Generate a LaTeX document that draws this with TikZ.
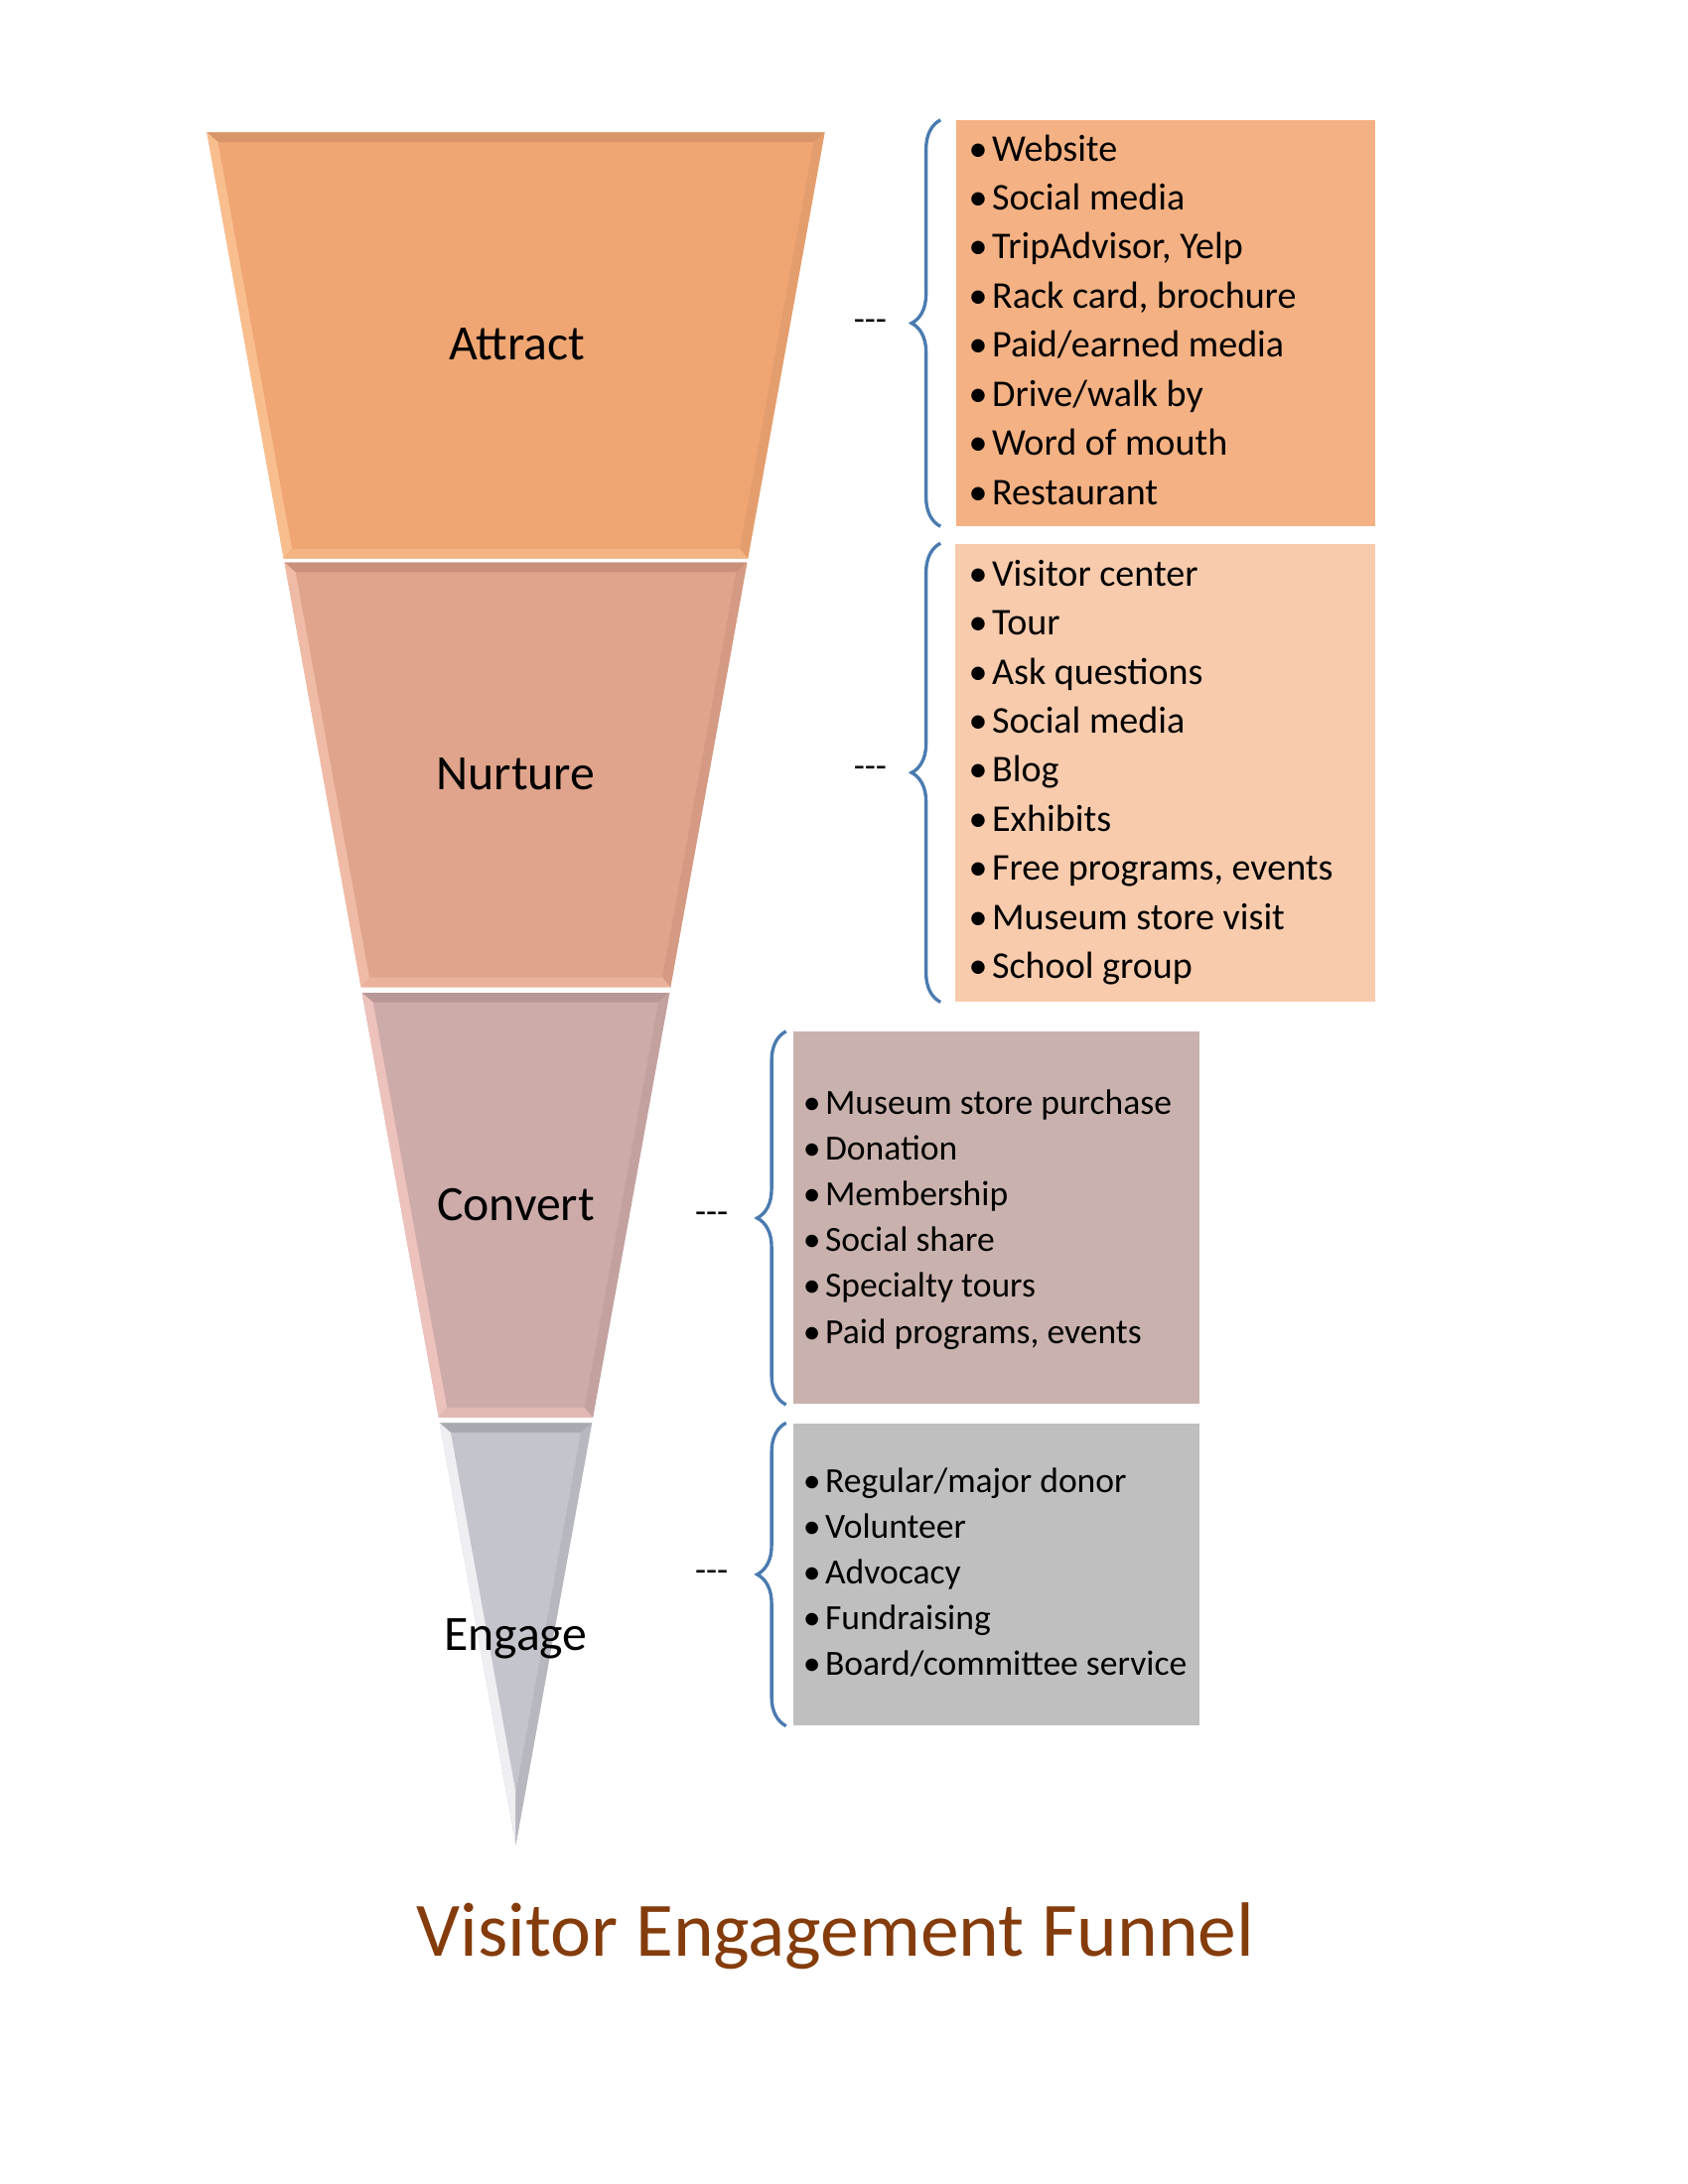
\documentclass[tikz,border=0pt]{standalone}
\usepackage{fontspec}
\setmainfont{Carlito}
\usepackage{tikz}
\usetikzlibrary{positioning,decorations.pathreplacing}

\definecolor{attractfill}{HTML}{F0A673}
\definecolor{attractdark}{HTML}{D8956A}
\definecolor{attractlight}{HTML}{F9BE8E}
\definecolor{attractbox}{HTML}{F4B183}
\definecolor{nurturefill}{HTML}{E0A48C}
\definecolor{nurturedark}{HTML}{C98F7A}
\definecolor{nurturelight}{HTML}{F0BBA6}
\definecolor{nurturebox}{HTML}{F8CBAD}
\definecolor{convertfill}{HTML}{CCABA9}
\definecolor{convertdark}{HTML}{B89896}
\definecolor{convertlight}{HTML}{EDC2BC}
\definecolor{convertbox}{HTML}{C9B2AD}
\definecolor{engagefill}{HTML}{C4C4CC}
\definecolor{engagedark}{HTML}{A9A9B2}
\definecolor{engagelight}{HTML}{EEEEF3}
\definecolor{engagebox}{HTML}{BFBFBF}
\definecolor{bracecol}{HTML}{4A7BB0}
\definecolor{titlecol}{HTML}{843C0C}

% one band of the funnel: top y, bottom y, half width top, half width bottom, colour prefix
\newcommand{\funnelband}[5]{%
  \fill[#5fill] ({374-#3},#1) -- ({374+#3},#1) -- ({374+#4},#2) -- ({374-#4},#2) -- cycle;
  \fill[#5dark] ({374-#3},#1) -- ({374+#3},#1) -- ({374+#3-8},{#1+7}) -- ({374-#3+8},{#1+7}) -- cycle;
  \fill[#5light] ({374-#3},#1) -- ({374-#3+8},{#1+7}) -- ({374-#4+6},{#2-7}) -- ({374-#4},#2) -- cycle;
  \fill[#5dark!50!#5fill] ({374+#3},#1) -- ({374+#3-8},{#1+7}) -- ({374+#4-6},{#2-7}) -- ({374+#4},#2) -- cycle;
  \fill[#5light!60!#5fill] ({374-#4},#2) -- ({374-#4+6},{#2-7}) -- ({374+#4-6},{#2-7}) -- ({374+#4},#2) -- cycle;
}
\newcommand{\lbul}{\makebox[8.5pt][l]{\textbullet}}
\newcommand{\sbul}{\makebox[8pt][l]{\textbullet}}

\tikzset{
  stagelabel/.style={font=\fontsize{17.9}{21}\selectfont, anchor=base, inner sep=0pt},
  listbox/.style={rectangle, anchor=north west, inner sep=0pt},
  biglist/.style={font=\fontsize{13.7}{17.8}\selectfont, align=left, anchor=base west, inner sep=0pt},
  smalllist/.style={font=\fontsize{12.8}{16.6}\selectfont, align=left, anchor=base west, inner sep=0pt},
  bracebar/.style={decorate, decoration={brace, amplitude=10.5pt}, draw=bracecol, line width=1.2pt},
  dashmark/.style={font=\fontsize{13}{15}\selectfont, inner sep=0pt},
}

\begin{document}
\begin{tikzpicture}[x=0.5pt, y=-0.5pt]
    \useasboundingbox (0,0) rectangle (1224,1584);
    % funnel
    \funnelband{96}{405}{224}{168.3}{attract}
    \funnelband{408}{716}{167.7}{112.2}{nurture}
    \funnelband{720}{1028}{111.5}{55.9}{convert}
    \fill[engagefill] (318.8,1032) -- (429.2,1032) -- (374,1338) -- cycle;
    \fill[engagedark] (318.8,1032) -- (429.2,1032) -- (421.2,1039) -- (326.8,1039) -- cycle;
    \fill[engagelight] (318.8,1032) -- (326.8,1039) -- (374,1300) -- (374,1338) -- cycle;
    \fill[engagedark!50!engagefill] (429.2,1032) -- (421.2,1039) -- (374,1300) -- (374,1338) -- cycle;
    \node[stagelabel] (attract) at (375,261) {Attract};
    \node[stagelabel] (nurture) at (374,573) {Nurture};
    \node[stagelabel] (convert) at (374,885) {Convert};
    \node[stagelabel] (engage) at (374,1197) {Engage};
    % boxes (list nodes sit on the baseline of their last line)
    \node[listbox, fill=attractbox, minimum width=152pt, minimum height=147pt] (attractbox) at (693,87) {};
    \node[listbox, fill=nurturebox, minimum width=152.5pt, minimum height=166pt] (nurturebox) at (692,394) {};
    \node[listbox, fill=convertbox, minimum width=147pt, minimum height=135pt] (convertbox) at (575,748) {};
    \node[listbox, fill=engagebox, minimum width=147pt, minimum height=109.5pt] (engagebox) at (575,1032) {};
    \node[biglist] (attractlist) at (702,365.9) {\lbul Website\\ \lbul Social media\\ \lbul TripAdvisor, Yelp\\
      \lbul Rack card, brochure\\ \lbul Paid/earned media\\ \lbul Drive/walk by\\ \lbul Word of mouth\\ \lbul Restaurant};
    \node[biglist] (nurturelist) at (702,709.7) {\lbul Visitor center\\ \lbul Tour\\ \lbul Ask questions\\
      \lbul Social media\\ \lbul Blog\\ \lbul Exhibits\\ \lbul Free programs, events\\ \lbul Museum store visit\\ \lbul School group};
    \node[smalllist] (convertlist) at (582,974.2) {\sbul Museum store purchase\\ \sbul Donation\\ \sbul Membership\\
      \sbul Social share\\ \sbul Specialty tours\\ \sbul Paid programs, events};
    \node[smalllist] (engagelist) at (582,1215.2) {\sbul Regular/major donor\\ \sbul Volunteer\\ \sbul Advocacy\\
      \sbul Fundraising\\ \sbul Board/committee service};
    % braces
    \draw[bracebar] ([xshift=-5.5pt]attractbox.south west) -- ([xshift=-5.5pt]attractbox.north west);
    \draw[bracebar] ([xshift=-5pt]nurturebox.south west) -- ([xshift=-5pt]nurturebox.north west);
    \draw[bracebar] ([xshift=-2.5pt]convertbox.south west) -- ([xshift=-2.5pt]convertbox.north west);
    \draw[bracebar] ([xshift=-2.5pt]engagebox.south west) -- ([xshift=-2.5pt]engagebox.north west);
    \node[dashmark] (attractdash) at (631,236) {-\kern0pt-\kern0pt-};
    \node[dashmark] (nurturedash) at (631,560) {-\kern0pt-\kern0pt-};
    \node[dashmark] (convertdash) at (516,883) {-\kern0pt-\kern0pt-};
    \node[dashmark] (engagedash) at (516,1143) {-\kern0pt-\kern0pt-};
    \node[font=\fontsize{27.9}{33}\selectfont, text=titlecol, anchor=base, inner sep=0pt] (title) at (606,1419) {Visitor Engagement Funnel};
\end{tikzpicture}
\end{document}
